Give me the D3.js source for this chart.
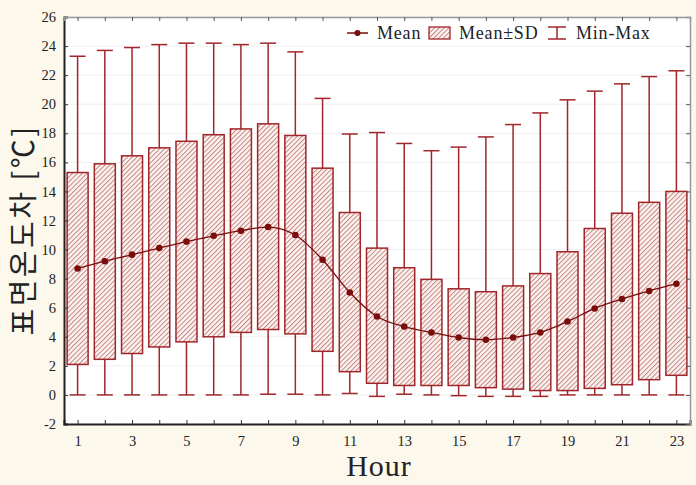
<!DOCTYPE html>
<html><head><meta charset="utf-8">
<script src="https://cdn.jsdelivr.net/npm/d3@7"></script>
<style>
body{margin:0;background:#fcf8ec;}
svg{display:block;}
</style></head>
<body><svg id="c" width="696" height="485"></svg>
<script>
const hours = [1,2,3,4,5,6,7,8,9,10,11,12,13,14,15,16,17,18,19,20,21,22,23];
const meanVals = [8.7,9.2,9.65,10.1,10.55,10.95,11.3,11.55,11.0,9.3,7.05,5.4,4.7,4.3,3.95,3.8,3.95,4.3,5.05,5.95,6.6,7.15,7.65];
const sdLow = [2.1,2.45,2.85,3.3,3.65,4.0,4.3,4.5,4.2,3.0,1.6,0.8,0.65,0.65,0.65,0.5,0.4,0.3,0.3,0.45,0.7,1.05,1.35];
const sdHigh = [15.3,15.9,16.45,17.0,17.45,17.9,18.3,18.65,17.85,15.6,12.55,10.1,8.75,7.95,7.3,7.1,7.5,8.35,9.85,11.45,12.5,13.25,14.0];
const minVals = [0,0,0,0,0,0,0,0.05,0.05,0,0.1,-0.1,0.05,0,-0.05,-0.1,-0.1,-0.1,0,0,0,0,0];
const maxVals = [23.3,23.7,23.9,24.1,24.2,24.2,24.1,24.2,23.6,20.4,17.95,18.05,17.3,16.8,17.05,17.75,18.6,19.4,20.3,20.9,21.4,21.9,22.3];
const yTicks = [-2,0,2,4,6,8,10,12,14,16,18,20,22,24,26];
const xLabels = [1,3,5,7,9,11,13,15,17,19,21,23];
const legendLabels = ["Mean","Mean±SD","Min-Max"];

const svg = d3.select("#c");
const L=64, R=690, T=17, B=424;
const x = d3.scaleLinear().domain([0.5,23.5]).range([L,R]);
const y = d3.scaleLinear().domain([-2,26]).range([B,T]);
const red="#a0262a", dark="#7a0c0c";
const serif = "'Liberation Serif','DejaVu Serif',serif";

const defs = svg.append("defs");
const pat = defs.append("pattern").attr("id","hatch").attr("patternUnits","userSpaceOnUse")
  .attr("width",3.4).attr("height",3.4).attr("patternTransform","rotate(45)");
pat.append("rect").attr("width",3.4).attr("height",3.4).attr("fill","#fdf4f2");
pat.append("line").attr("x1",0.5).attr("y1",0).attr("x2",0.5).attr("y2",3.4).attr("stroke","#c48582").attr("stroke-width",1);

svg.append("rect").attr("x",L).attr("y",T).attr("width",R-L).attr("height",B-T).attr("fill","#fff");

svg.append("g").selectAll("line").data(yTicks).join("line")
  .attr("x1",L).attr("x2",R).attr("y1",d=>y(d)).attr("y2",d=>y(d))
  .attr("stroke","#efefef").attr("stroke-width",1);

const data = hours.map((h,i)=>({h,m:meanVals[i],lo:sdLow[i],hi:sdHigh[i],mn:minVals[i],mx:maxVals[i]}));
const bw=21, cw=16;
const g = svg.append("g");
g.selectAll(".wu").data(data).join("line").attr("x1",d=>x(d.h)).attr("x2",d=>x(d.h))
  .attr("y1",d=>y(d.hi)).attr("y2",d=>y(d.mx)).attr("stroke",red).attr("stroke-width",1.5);
g.selectAll(".wl").data(data).join("line").attr("x1",d=>x(d.h)).attr("x2",d=>x(d.h))
  .attr("y1",d=>y(d.lo)).attr("y2",d=>y(d.mn)).attr("stroke",red).attr("stroke-width",1.5);
g.selectAll(".cu").data(data).join("line").attr("x1",d=>x(d.h)-cw/2).attr("x2",d=>x(d.h)+cw/2)
  .attr("y1",d=>y(d.mx)).attr("y2",d=>y(d.mx)).attr("stroke",red).attr("stroke-width",1.5);
g.selectAll(".cl").data(data).join("line").attr("x1",d=>x(d.h)-cw/2).attr("x2",d=>x(d.h)+cw/2)
  .attr("y1",d=>y(d.mn)).attr("y2",d=>y(d.mn)).attr("stroke",red).attr("stroke-width",1.5);
g.selectAll(".bx").data(data).join("rect").attr("x",d=>x(d.h)-bw/2).attr("width",bw)
  .attr("y",d=>y(d.hi)).attr("height",d=>y(d.lo)-y(d.hi))
  .attr("fill","url(#hatch)").attr("stroke",red).attr("stroke-width",1.5);
g.append("path").datum(data).attr("fill","none").attr("stroke",dark).attr("stroke-width",1.3)
  .attr("d",d3.line().x(d=>x(d.h)).y(d=>y(d.m)).curve(d3.curveMonotoneX));
g.selectAll(".pt").data(data).join("circle").attr("cx",d=>x(d.h)).attr("cy",d=>y(d.m)).attr("r",3.3).attr("fill",dark);

const axL = d3.axisLeft(y).tickValues(yTicks).tickSize(-4).tickPadding(8).tickFormat(d=>d<0?"-"+(-d):d);
const gl = svg.append("g").attr("transform",`translate(${L},0)`).call(axL);
const axB = d3.axisBottom(x).tickValues(hours).tickSize(-4).tickPadding(12).tickFormat(d=>xLabels.includes(d)?d:"");
const gb = svg.append("g").attr("transform",`translate(0,${B})`).call(axB);
const axR = d3.axisRight(y).tickValues(yTicks).tickSize(-4).tickFormat("");
const gr = svg.append("g").attr("transform",`translate(${R},0)`).call(axR);
const axT = d3.axisTop(x).tickValues(hours).tickSize(-4).tickFormat("");
const gt = svg.append("g").attr("transform",`translate(0,${T})`).call(axT);
[gl,gb].forEach(a=>{a.select(".domain").attr("stroke","#222").attr("stroke-width",2);
  a.selectAll(".tick line").attr("stroke","#333");
  a.selectAll("text").attr("font-family",serif).attr("font-size",14.5).attr("fill","#222");});
[gr,gt].forEach(a=>{a.select(".domain").attr("stroke","#999").attr("stroke-width",1.5);
  a.selectAll(".tick line").attr("stroke","#555");});

svg.append("text").attr("x",x(12)+2).attr("y",476).attr("text-anchor","middle")
  .attr("font-family",serif).attr("font-size",30).attr("letter-spacing",1).attr("fill","#222").text("Hour");
svg.append("text").attr("transform",`translate(34,230) rotate(-90)`).attr("text-anchor","middle")
  .attr("font-family","'Noto Sans CJK KR',sans-serif").attr("font-size",29).attr("letter-spacing",2.5).attr("fill","#222").text("표면온도차 [℃]");

const lg = svg.append("g").attr("font-family",serif).attr("font-size",18).attr("letter-spacing",0.8).attr("fill","#222");
lg.append("rect").attr("x",338).attr("y",21).attr("width",348).attr("height",24).attr("fill","#fff");
lg.append("line").attr("x1",347).attr("x2",368).attr("y1",33).attr("y2",33).attr("stroke",dark).attr("stroke-width",1.5);
lg.append("circle").attr("cx",357.5).attr("cy",33).attr("r",3).attr("fill",dark);
lg.append("text").attr("x",377).attr("y",39).text(legendLabels[0]);
lg.append("rect").attr("x",429).attr("y",27).attr("width",21).attr("height",12).attr("fill","url(#hatch)").attr("stroke",red).attr("stroke-width",1.3);
lg.append("text").attr("x",459).attr("y",39).text(legendLabels[1]);
lg.append("line").attr("x1",548).attr("x2",566).attr("y1",27).attr("y2",27).attr("stroke",red).attr("stroke-width",1.5);
lg.append("line").attr("x1",557).attr("x2",557).attr("y1",27).attr("y2",39).attr("stroke",red).attr("stroke-width",1.5);
lg.append("line").attr("x1",548).attr("x2",566).attr("y1",39).attr("y2",39).attr("stroke",red).attr("stroke-width",1.5);
lg.append("text").attr("x",576).attr("y",39).text(legendLabels[2]);
</script></body></html>
